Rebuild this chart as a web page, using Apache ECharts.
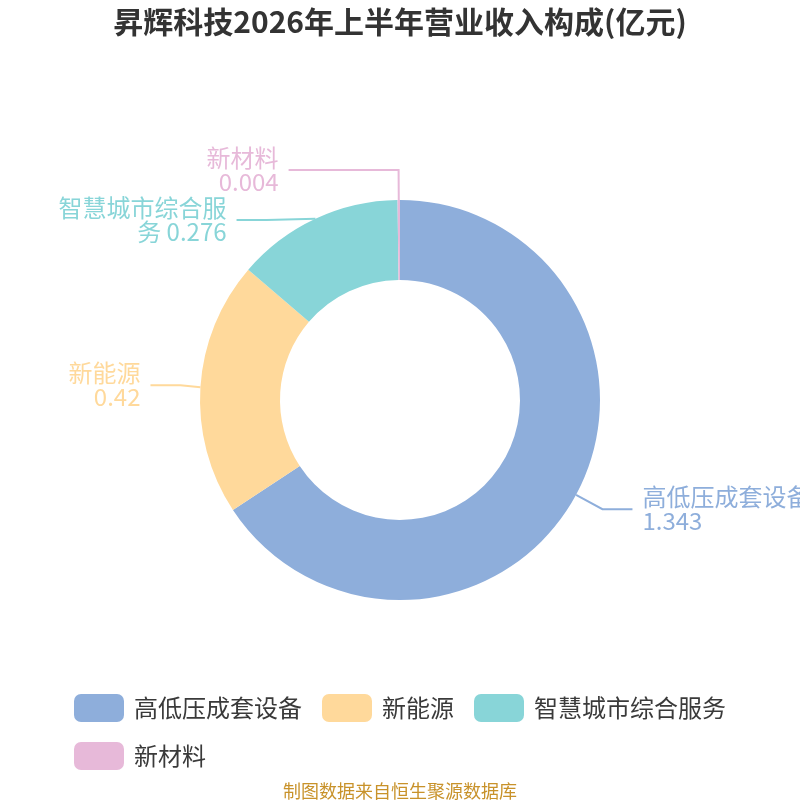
<!DOCTYPE html>
<html>
<head>
<meta charset="utf-8">
<script src="https://cdn.jsdelivr.net/npm/echarts@6/dist/echarts.min.js"></script>
<style>
  html, body { margin: 0; padding: 0; background: #fff; }
  #main { width: 800px; height: 800px; }
</style>
</head>
<body>
<div id="main"></div>
<script>
// 数据
var names = ['高低压成套设备', '新能源', '智慧城市综合服务', '新材料'];
var values = [1.343, 0.42, 0.276, 0.004];
var colors = ['#8eaedb', '#ffd99b', '#88d5d8', '#e7b9d9'];

var pieData = [];
for (var i = 0; i < names.length; i++) {
    var item = { name: names[i], value: values[i] };
    // 很小的扇区，引导线拉长一点让标签往左
    if (values[i] < 0.01) {
        item.labelLine = { length2: 110 };
    }
    pieData.push(item);
}

var myChart = echarts.init(document.getElementById('main'));

var option = {
    color: colors,
    title: [
        {
            text: '昇辉科技2026年上半年营业收入构成(亿元)',
            left: 'center',
            top: 2,
            textStyle: {
                fontSize: 30,
                fontWeight: 'bold',
                color: '#333',
                fontFamily: 'Noto Sans CJK SC'
            }
        },
        {
            text: '制图数据来自恒生聚源数据库',
            left: 'center',
            top: 777,
            textStyle: {
                fontSize: 18,
                fontWeight: 'normal',
                color: '#c8922a',
                fontFamily: 'Noto Sans CJK SC'
            }
        }
    ],
    legend: {
        left: 74,
        right: 20,
        top: 694,
        padding: 0,
        itemWidth: 50,
        itemHeight: 28,
        itemGap: 20,
        textStyle: {
            fontSize: 24,
            color: '#3a3a3a',
            padding: [0, 0, 0, 5],
            fontFamily: 'Noto Sans CJK SC'
        },
        data: names
    },
    series: [
        {
            type: 'pie',
            center: ['50%', '50%'],
            radius: ['30%', '50%'],
            startAngle: 90,
            data: pieData,
            label: {
                fontSize: 24,
                lineHeight: 24,
                fontFamily: 'Noto Sans CJK SC',
                color: 'inherit',
                overflow: 'none',
                distanceToLabelLine: 10,
                formatter: function (p) {
                    // 长名称折行
                    if (p.name.length > 7) {
                        return p.name.slice(0, 7) + '\n' + p.name.slice(7) + ' ' + p.value;
                    }
                    return p.name + '\n' + p.value;
                }
            },
            labelLine: {
                length: 30,
                length2: 30,
                lineStyle: { width: 2 }
            },
            emphasis: { scale: false }
        }
    ]
};

myChart.setOption(option);
</script>
</body>
</html>
